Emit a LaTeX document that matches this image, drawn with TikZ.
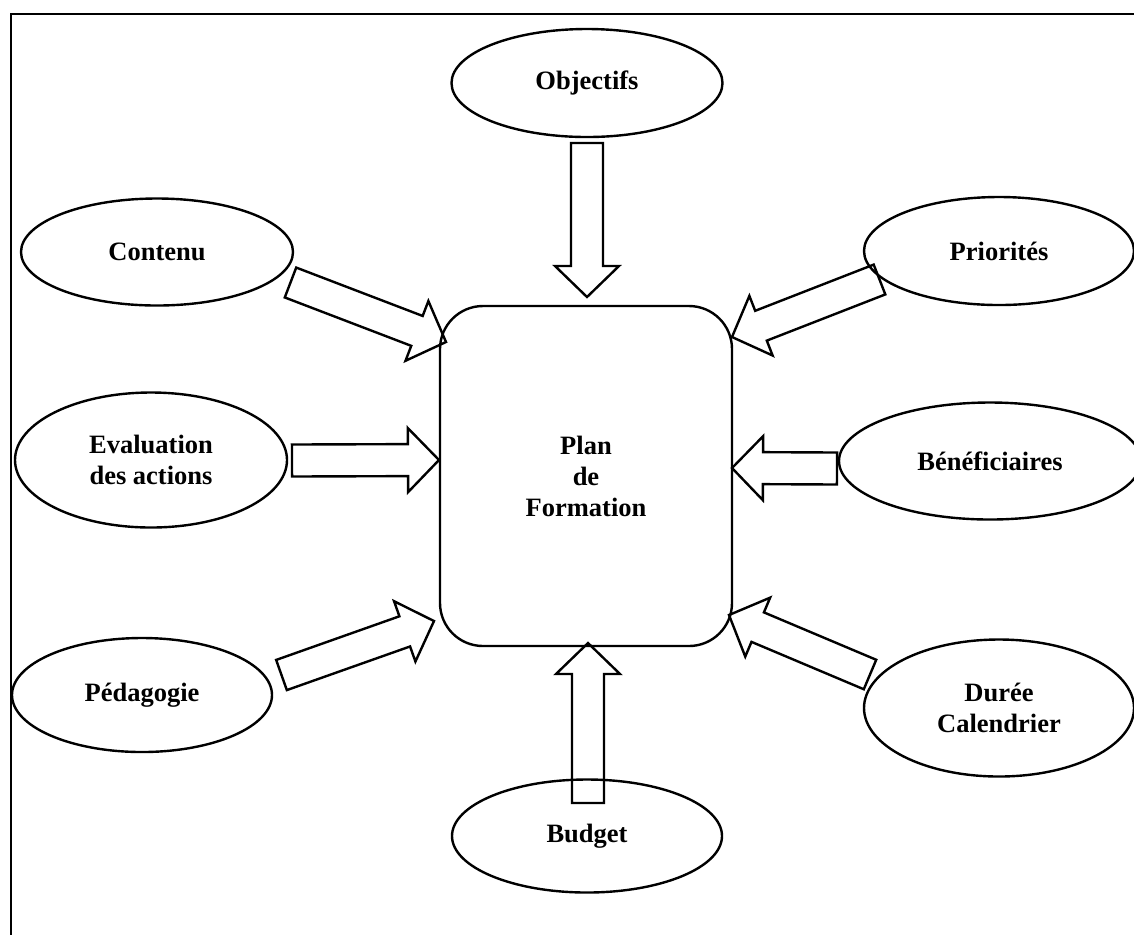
\documentclass[tikz,border=0pt]{standalone}
\usepackage{fontspec}
\setmainfont{Liberation Serif}
\usetikzlibrary{calc,shapes.geometric}

\tikzset{
  txt/.style={font=\fontsize{13.25}{15.5}\selectfont\bfseries, align=center},
  bubble/.style={ellipse, draw, line width=1.2pt, inner sep=0pt, txt},
  planbox/.style={rectangle, draw, line width=1.2pt, rounded corners=21.5pt,
    minimum width=146pt, minimum height=170pt, inner sep=0pt, txt},
  % hollow block arrow from the start point (tail centre) to the target (tip)
  blockarrow/.style={draw, line width=1.2pt, line join=miter,
    to path={let \p1=(\tikztostart), \p2=(\tikztotarget),
      \n1={atan2(\y2-\y1,\x2-\x1)}, \n2={veclen(\x2-\x1,\y2-\y1)} in
      ($(\p1)+(\n1+90:8pt)$)
      -- ($(\p1)+({\n1}:{\n2*1pt-15.5pt})+(\n1+90:8pt)$)
      -- ($(\p1)+({\n1}:{\n2*1pt-15.5pt})+(\n1+90:16pt)$)
      -- (\p2)
      -- ($(\p1)+({\n1}:{\n2*1pt-15.5pt})+(\n1-90:16pt)$)
      -- ($(\p1)+({\n1}:{\n2*1pt-15.5pt})+(\n1-90:8pt)$)
      -- ($(\p1)+(\n1-90:8pt)$) -- cycle}}
}

\begin{document}
\begin{tikzpicture}[x=0.5pt, y=-0.5pt]
  \clip (0,0) rectangle (1134,934);

  % outer frame
  \draw[line width=1.2pt] (11,14) rectangle (1160,960);

  % central box
  \node[planbox] (plan) at (586,476) {Plan\\de\\Formation};

  % surrounding items
  \node[bubble, minimum width=135.5pt, minimum height=54pt] (obj) at (587,83) {Objectifs};
  \node[bubble, minimum width=136pt, minimum height=53.5pt] (cont) at (157,252) {Contenu};
  \node[bubble, minimum width=135pt, minimum height=54pt] (prio) at (999,251) {Priorités};
  \node[bubble, minimum width=136pt, minimum height=67.5pt] (eval) at (151,460) {Evaluation\\des actions};
  \node[bubble, minimum width=151pt, minimum height=58.5pt] (benef) at (990,461) {Bénéficiaires};
  \node[bubble, minimum width=130pt, minimum height=57pt] (peda) at (142,695) {Pédagogie};
  \node[bubble, minimum width=135pt, minimum height=68.5pt] (duree) at (999,708) {Durée\\Calendrier};
  \node[bubble, minimum width=135pt, minimum height=56.5pt] (budget) at (587,836) {Budget};

  % arrow tails and tips
  \coordinate (objT) at (587,143);     \coordinate (objH) at (587,297);
  \coordinate (contT) at (290.5,282.5); \coordinate (contH) at (446,342);
  \coordinate (prioT) at (879.5,279.5); \coordinate (prioH) at (732,337);
  \coordinate (evalT) at (292,460.5);   \coordinate (evalH) at (439,460);
  \coordinate (benefT) at (837,468.5);  \coordinate (benefH) at (732,468);
  \coordinate (pedaT) at (281.5,675);   \coordinate (pedaH) at (434,621);
  \coordinate (dureeT) at (870,674.5);  \coordinate (dureeH) at (729,615);
  \coordinate (budgetT) at (588,803);   \coordinate (budgetH) at (588,643);

  \draw[blockarrow] (objT) to (objH);
  \draw[blockarrow] (contT) to (contH);
  \draw[blockarrow] (prioT) to (prioH);
  \draw[blockarrow] (evalT) to (evalH);
  \draw[blockarrow] (benefT) to (benefH);
  \draw[blockarrow] (pedaT) to (pedaH);
  \draw[blockarrow] (dureeT) to (dureeH);
  \draw[blockarrow] (budgetT) to (budgetH);
\end{tikzpicture}
\end{document}
